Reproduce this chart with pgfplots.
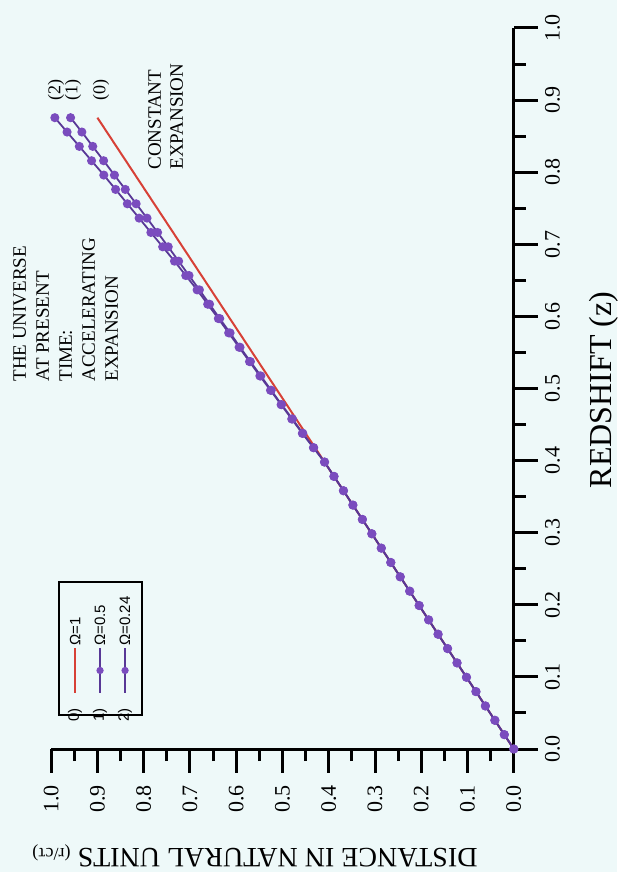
\documentclass[border=0pt]{standalone}
\usepackage{fontspec}
\setmainfont{Liberation Serif}
\newfontfamily\legfont{Liberation Sans}
\usepackage{pgfplots}
\usepackage{pgfplotstable}
\pgfplotsset{compat=1.18}
\usetikzlibrary{backgrounds}
\definecolor{bgc}{RGB}{238,249,249}
\definecolor{redl}{RGB}{215,65,55}
\definecolor{purp}{RGB}{122,76,190}
\definecolor{purpd}{RGB}{88,56,150}

\pgfplotstableread{
z d1 d2
0 0 0
0.0199 0.0205 0.0205
0.0398 0.0409 0.0409
0.0597 0.0614 0.0614
0.0796 0.0818 0.0818
0.0995 0.1023 0.1023
0.1194 0.1227 0.1227
0.1393 0.1432 0.1432
0.1592 0.1637 0.1637
0.1791 0.1841 0.1841
0.1990 0.2046 0.2046
0.2189 0.2250 0.2250
0.2388 0.2455 0.2455
0.2587 0.2659 0.2659
0.2786 0.2864 0.2864
0.2985 0.3069 0.3069
0.3184 0.3273 0.3273
0.3383 0.3478 0.3478
0.3582 0.3682 0.3682
0.3781 0.3887 0.3887
0.3980 0.4091 0.4091
0.4179 0.4326 0.4331
0.4378 0.4561 0.4571
0.4577 0.4785 0.4800
0.4776 0.5020 0.5030
0.4975 0.5244 0.5259
0.5174 0.5469 0.5489
0.5373 0.5693 0.5713
0.5572 0.5918 0.5938
0.5771 0.6133 0.6163
0.5970 0.6357 0.6387
0.6169 0.6577 0.6617
0.6368 0.6796 0.6846
0.6567 0.7021 0.7091
0.6766 0.7245 0.7335
0.6965 0.7470 0.7590
0.7164 0.7700 0.7845
0.7363 0.7929 0.8099
0.7562 0.8164 0.8354
0.7761 0.8398 0.8608
0.7960 0.8633 0.8863
0.8159 0.8867 0.9127
0.8358 0.9102 0.9392
0.8557 0.9337 0.9657
0.8756 0.9581 0.9921
}\curves

\begin{document}
\begin{tikzpicture}[background rectangle/.style={fill=bgc}, show background rectangle, inner frame sep=0pt]
\begin{axis}[
  scale only axis, width=231.3pt, height=360.5pt,
  xmin=0, xmax=1, ymin=0, ymax=1,
  x dir=reverse,
  axis x line=bottom, axis y line=right,
  axis line style={-, line width=1.5pt, black},
  clip=false,
  xtick={0,0.1,0.2,0.3,0.4,0.5,0.6,0.7,0.8,0.9,1},
  ytick={0,0.1,0.2,0.3,0.4,0.5,0.6,0.7,0.8,0.9,1},
  minor x tick num=1, minor y tick num=1,
  tick align=outside,
  major tick length=12pt, minor tick length=6pt,
  tick style={black, line width=1.5pt},
  /pgf/number format/assume math mode=true,
  /pgf/number format/.cd, fixed, fixed zerofill, precision=1, /pgfplots/.cd,
  xticklabel shift=2.5pt,
  xticklabel style={rotate=90, anchor=east, font=\fontsize{11}{13}\selectfont},
  yticklabel style={rotate=90, anchor=north, font=\fontsize{11}{13}\selectfont},
]
\coordinate (O) at (axis cs:0,0);

% data series
\addplot[redl, line width=1pt]
  coordinates {(0,0) (0.9001,0.8756)};
\addplot[purpd, line width=0.9pt, mark=*, mark size=1.8pt, mark options={fill=purp, draw=purp}]
  table[x=d1, y=z] {\curves};
\addplot[purpd, line width=0.9pt, mark=*, mark size=1.8pt, mark options={fill=purp, draw=purp}]
  table[x=d2, y=z] {\curves};

% legend (rotated, as in the reference)
\draw[black, line width=0.8pt] (axis cs:0.9831,0.0472) rectangle (axis cs:0.8037,0.2316);
\addplot[redl, line width=0.8pt, forget plot] coordinates {(0.9484,0.0777) (0.9484,0.1401)};
\addplot[purpd, line width=0.8pt, forget plot] coordinates {(0.8944,0.0777) (0.8944,0.1401)};
\addplot[only marks, mark=*, mark size=1.6pt, mark options={fill=purp, draw=purp}, forget plot] coordinates {(0.8944,0.1089)};
\addplot[purpd, line width=0.8pt, forget plot] coordinates {(0.8403,0.0777) (0.8403,0.1401)};
\addplot[only marks, mark=*, mark size=1.6pt, mark options={fill=purp, draw=purp}, forget plot] coordinates {(0.8403,0.1089)};
\node[rotate=90, anchor=east, inner sep=0.5pt, font=\legfont\fontsize{7.5}{9}\selectfont] at (axis cs:0.9484,0.0587) {0)};
\node[rotate=90, anchor=east, inner sep=0.5pt, font=\legfont\fontsize{7.5}{9}\selectfont] at (axis cs:0.8944,0.0587) {1)};
\node[rotate=90, anchor=east, inner sep=0.5pt, font=\legfont\fontsize{7.5}{9}\selectfont] at (axis cs:0.8403,0.0587) {2)};
\node[rotate=90, anchor=west, inner sep=1pt, font=\legfont\fontsize{7.5}{9}\selectfont] at (axis cs:0.9484,0.1401) {Ω=1};
\node[rotate=90, anchor=west, inner sep=1pt, font=\legfont\fontsize{7.5}{9}\selectfont] at (axis cs:0.8944,0.1401) {Ω=0.5};
\node[rotate=90, anchor=west, inner sep=1pt, font=\legfont\fontsize{7.5}{9}\selectfont] at (axis cs:0.8403,0.1401) {Ω=0.24};

% annotations
\node[rotate=90, anchor=north west, align=left, inner sep=0pt, font=\fontsize{9.5}{11.5}\selectfont]
  at (axis cs:1.0826,0.509) {THE UNIVERSE\\AT PRESENT\\TIME:\\ACCELERATING\\EXPANSION};
\node[rotate=90, anchor=north west, align=left, inner sep=0pt, font=\fontsize{9.5}{11}\selectfont]
  at (axis cs:0.7908,0.8031) {CONSTANT\\EXPANSION};
\node[rotate=90, anchor=west, inner sep=0pt, font=\fontsize{9}{11}\selectfont] at (axis cs:0.9896,0.8988) {(2)};
\node[rotate=90, anchor=west, inner sep=0pt, font=\fontsize{9}{11}\selectfont] at (axis cs:0.9529,0.8988) {(1)};
\node[rotate=90, anchor=west, inner sep=0pt, font=\fontsize{9}{11}\selectfont] at (axis cs:0.8924,0.8988) {(0)};

% axis titles
\node[rotate=90, anchor=north, inner sep=0pt, font=\fontsize{16}{19}\selectfont] at (axis cs:-0.1626,0.498) {REDSHIFT (z)};
\node[rotate=180, inner sep=0pt, font=\fontsize{14}{17}\selectfont] at (axis cs:0.5595,-0.1484)
  {DISTANCE IN NATURAL UNITS {\fontsize{9}{11}\selectfont(r/cτ)}};
\end{axis}
\pgfresetboundingbox
\path[use as bounding box] (O) ++(-256.9pt,-61.5pt) rectangle ++(308.5pt,436pt);
\end{tikzpicture}
\end{document}
